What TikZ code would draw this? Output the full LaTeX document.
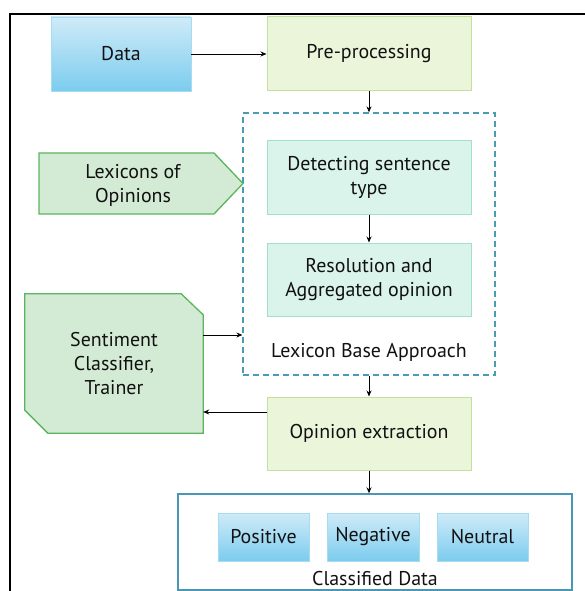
\documentclass[tikz,border=0pt]{standalone}
\usepackage{fontspec}
\setmainfont{PT Sans}
\usetikzlibrary{arrows.meta,backgrounds}
\definecolor{bluetop}{HTML}{CFEBF8}
\definecolor{bluebot}{HTML}{7CCCEE}
\definecolor{bluebd}{HTML}{A6DBF1}
\definecolor{prefill}{HTML}{EAF5DA}
\definecolor{prebd}{HTML}{C3E09C}
\definecolor{mintfill}{HTML}{DAF4EB}
\definecolor{mintbd}{HTML}{9FE1CA}
\definecolor{lexfill}{HTML}{D3EBD4}
\definecolor{lexbd}{HTML}{5AB55D}
\definecolor{tealdash}{HTML}{4A9CB2}
\definecolor{cdbd}{HTML}{4A97B5}
\definecolor{txt}{HTML}{111111}
\begin{document}
\begin{tikzpicture}[x=1bp,y=-1bp,
  every node/.style={text=txt, align=center, inner sep=0pt},
  font=\fontsize{20}{24}\selectfont,
  arr/.style={-{Stealth[length=6bp,width=5bp]}, line width=0.9bp, black},
  bluebox/.style={draw=bluebd, line width=0.8bp, top color=bluetop, bottom color=bluebot},
  prebox/.style={draw=prebd, line width=1bp, fill=prefill},
  mintbox/.style={draw=mintbd, line width=1bp, fill=mintfill},
  lexshape/.style={draw=lexbd, line width=1.3bp, fill=lexfill},
  dashbox/.style={draw=tealdash, line width=1.3bp, dash pattern=on 6bp off 4bp},
  cdbox/.style={draw=cdbd, line width=1.4bp}]
\useasboundingbox (0,0) rectangle (585,591);
% outer frame
\draw[line width=1.8bp] (10,591) -- (10,14) -- (585,14);

% top row
\node[bluebox, minimum width=140bp, minimum height=74bp] (data) at (121,54) {Data};
\node[prebox, minimum width=204bp, minimum height=74bp] (pre) at (369,54) {Pre-processing};

% lexicon base approach group
\node[dashbox, minimum width=252bp, minimum height=262bp] (lba) at (369,244) {};
\node[mintbox, minimum width=204bp, minimum height=73bp] (det) at (369,177.5) {Detecting sentence\\type};
\node[mintbox, minimum width=204bp, minimum height=73bp] (res) at (369,279.5) {Resolution and\\Aggregated opinion};
\node (lbalabel) at (369,352) {Lexicon Base Approach};

% lexicons of opinions (pentagon arrow)
\coordinate (lexa) at (39,153);
\coordinate (lexb) at (214,153);
\coordinate (lextip) at (243,183.5);
\coordinate (lexc) at (214,214);
\coordinate (lexd) at (39,214);
\draw[lexshape] (lexa) -- (lexb) -- (lextip) -- (lexc) -- (lexd) -- cycle;
\node (lex) at (133,185) {Lexicons of\\Opinions};

% sentiment classifier (chamfered)
\node[minimum width=178bp, minimum height=139bp] (sent) at (114,363.5) {Sentiment\\Classifier,\\Trainer};
\begin{scope}[on background layer]
\draw[lexshape] (sent.north west) -- ([xshift=-22bp]sent.north east) -- ([yshift=-21bp]sent.north east)
  -- (sent.south east) -- ([xshift=23bp]sent.south west) -- ([yshift=23bp]sent.south west) -- cycle;
\end{scope}

% opinion extraction
\node[prebox, minimum width=204bp, minimum height=73bp] (op) at (369,433.5) {Opinion extraction};

% classified data
\node[cdbox, minimum width=394bp, minimum height=96bp] (cd) at (375,542) {};
\node[bluebox, minimum width=91bp, minimum height=48bp] (pos) at (263.5,537) {Positive};
\node[bluebox, minimum width=92bp, minimum height=48bp] (neg) at (373,537) {Negative};
\node[bluebox, minimum width=91bp, minimum height=48bp] (neu) at (482.5,537) {Neutral};
\node (cdlabel) at (375,579) {Classified Data};

% connectors
\draw[arr] (data) -- (pre);
\draw[arr] (pre.south) -- (pre.south |- lba.north);
\draw[arr] (det) -- (res);
\coordinate (s1) at ([yshift=28.5bp]sent.east);
\draw[arr] (s1) -- (s1 -| lba.west);
\draw[arr] (lba.south) -- (op.north);
\coordinate (o1) at ([yshift=21.5bp]op.west);
\draw[arr] (o1) -- (o1 -| sent.east);
\draw[arr] (op.south) -- (op.south |- cd.north);
\end{tikzpicture}
\end{document}
